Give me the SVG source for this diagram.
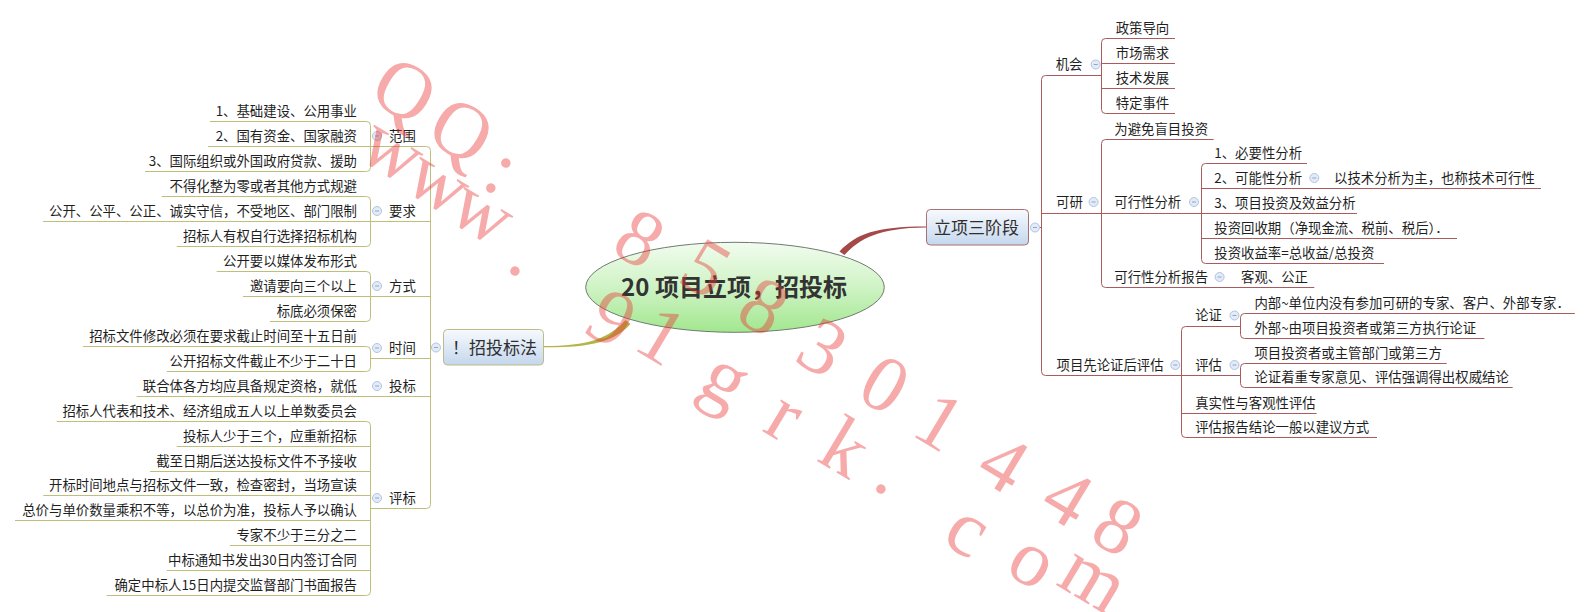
<svg xmlns="http://www.w3.org/2000/svg" xmlns:xlink="http://www.w3.org/1999/xlink" width="1591" height="612" viewBox="0 0 1591 612">
<defs>
<style>
.t{font-family:"Noto Sans CJK SC","Microsoft YaHei",sans-serif;font-size:13.4px;fill:#1f1f1f}
.e{text-anchor:end}
.b{font-size:17px;fill:#2f2f2f}
.m{font-size:24px;font-weight:bold;fill:#333;text-anchor:middle}
.ll{fill:none;stroke:#bfbf7c;stroke-width:1}
.rl{fill:none;stroke:#a85c5c;stroke-width:1}
.wm{font-family:"Liberation Serif","Times New Roman",serif;font-size:80px;fill:#ea3434;fill-opacity:.42;text-anchor:middle;dominant-baseline:central}
</style>
<linearGradient id="gEll" x1="0" y1="0" x2="0" y2="1">
<stop offset="0" stop-color="#f1fcee"/><stop offset="0.5" stop-color="#cff3c5"/><stop offset="1" stop-color="#a2e78f"/>
</linearGradient>
<linearGradient id="gBox" x1="0" y1="0" x2="0" y2="1">
<stop offset="0" stop-color="#f7fafd"/><stop offset="1" stop-color="#c4d7ee"/>
</linearGradient>
<g id="cb"><circle r="4.5" fill="#e3ebf7" stroke="#b1c4e3" stroke-width="1"/><path d="M-2,0H2" stroke="#8ea5cf" stroke-width="1"/></g>
</defs>
<rect width="1591" height="612" fill="#ffffff"/>

<g id="connectors">
<path d="M839.5,251.5 C856,233.5 877,226.3 926,226.4 L926,227.6 C879,228 860,238.5 844.5,255 Z" fill="#a44848"/>
<path d="M625.5,320 C609,338.5 588,346 543.5,346.1 L543.5,347.3 C591,347.6 614,342 630.5,324 Z" fill="#b3b548"/>
<path class="ll" d="M370.5,146.5 H426.5 Q430.5,146.5 430.5,150.5 V504.5 Q430.5,508.5 426.5,508.5 H370.5"/>
<path class="ll" d="M370.5,221.5 H430.5 M370.5,296.5 H430.5 M370.5,358.5 H430.5 M430.5,347.5 H432"/>
<path class="ll" d="M210,121.5 H366.5 Q370.5,121.5 370.5,125.5 V167.5 Q370.5,171.5 366.5,171.5 H145 M208,146.5 H370.5"/>
<path class="ll" d="M161.7,196.5 H366.5 Q370.5,196.5 370.5,200.5 V242.5 Q370.5,246.5 366.5,246.5 H176.7 M43,221.5 H370.5"/>
<path class="ll" d="M216.7,271.5 H366.5 Q370.5,271.5 370.5,275.5 V317.5 Q370.5,321.5 366.5,321.5 H270 M243,296.5 H370.5"/>
<path class="ll" d="M83,346.5 H366.5 Q370.5,346.5 370.5,350.5 V367.5 Q370.5,371.5 366.5,371.5 H166.7"/>
<path class="ll" d="M136.7,396.5 H430.5"/>
<path class="ll" d="M56.7,421.5 H366.5 Q370.5,421.5 370.5,425.5 V591.5 Q370.5,595.5 366.5,595.5 H106.7 M176.7,446.5 H370.5 M150,471.5 H370.5 M43.3,495.5 H370.5 M15,520.5 H370.5 M230,545.5 H370.5 M166.7,570.5 H370.5"/>
<path class="rl" d="M1101.5,75.5 H1045.5 Q1041.5,75.5 1041.5,79.5 V371.5 Q1041.5,375.5 1045.5,375.5 H1240.5 M1039.5,227.5 H1041.5"/>
<path class="rl" d="M1175,38.5 H1105.5 Q1101.5,38.5 1101.5,42.5 V109.5 Q1101.5,113.5 1105.5,113.5 H1175 M1101.5,63.5 H1175 M1101.5,88.5 H1175"/>
<path class="rl" d="M1213.6,139.5 H1105.5 Q1101.5,139.5 1101.5,143.5 V283.5 Q1101.5,287.5 1105.5,287.5 H1314.3 M1041.5,213.5 H1357"/>
<path class="rl" d="M1307,163.5 H1205.5 Q1201.5,163.5 1201.5,167.5 V259.5 Q1201.5,263.5 1205.5,263.5 H1384 M1201.5,188.5 H1541 M1201.5,238.5 H1457"/>
<path class="rl" d="M1240.5,326.5 H1185.5 Q1181.5,326.5 1181.5,330.5 V433.5 Q1181.5,437.5 1185.5,437.5 H1377 M1181.5,413.5 H1316.6"/>
<path class="rl" d="M1574.8,313.5 H1244.5 Q1240.5,313.5 1240.5,317.5 V334.5 Q1240.5,338.5 1244.5,338.5 H1484.4"/>
<path class="rl" d="M1446.7,363.5 H1244.5 Q1240.5,363.5 1240.5,367.5 V383.5 Q1240.5,387.5 1244.5,387.5 H1512.6"/>
</g>

<g id="n-root">
<ellipse cx="735" cy="287.3" rx="149.3" ry="45" fill="url(#gEll)" stroke="#707a70" stroke-width="1"/>
<text class="t m" x="734" y="296">20 项目立项，招投标</text>
</g>

<g id="n-ztbf">
<rect x="443.5" y="329.5" width="100" height="35.5" rx="4" fill="url(#gBox)" stroke="#bdbb86" stroke-width="1"/>
<text class="t b" x="452" y="353.5">！招投标法</text>
<use xlink:href="#cb" x="436" y="347.5"/>
</g>

<g id="n-lxsjd">
<rect x="926.5" y="209.5" width="102" height="35.5" rx="4" fill="url(#gBox)" stroke="#a87070" stroke-width="1"/>
<text class="t b" x="934" y="233.5">立项三阶段</text>
<use xlink:href="#cb" x="1035" y="227.5"/>
</g>

<g id="n-fw"><text class="t" x="389" y="140.5">范围</text><use xlink:href="#cb" x="377" y="136"/></g>
<g id="n-yq"><text class="t" x="389" y="215.5">要求</text><use xlink:href="#cb" x="377" y="211"/></g>
<g id="n-fs"><text class="t" x="389" y="290.5">方式</text><use xlink:href="#cb" x="377" y="286"/></g>
<g id="n-sj"><text class="t" x="389" y="352.5">时间</text><use xlink:href="#cb" x="377" y="348"/></g>
<g id="n-tb"><text class="t" x="389" y="390.5">投标</text><use xlink:href="#cb" x="377" y="386"/></g>
<g id="n-pb"><text class="t" x="389" y="502.5">评标</text><use xlink:href="#cb" x="377" y="498"/></g>

<g id="n-l0"><text class="t e" x="357" y="115.5">1、基础建设、公用事业</text></g>
<g id="n-l1"><text class="t e" x="357" y="140.5">2、国有资金、国家融资</text></g>
<g id="n-l2"><text class="t e" x="357" y="165.5">3、国际组织或外国政府贷款、援助</text></g>
<g id="n-l3"><text class="t e" x="357" y="190.5">不得化整为零或者其他方式规避</text></g>
<g id="n-l4"><text class="t e" x="357" y="215.5">公开、公平、公正、诚实守信，不受地区、部门限制</text></g>
<g id="n-l5"><text class="t e" x="357" y="240.5">招标人有权自行选择招标机构</text></g>
<g id="n-l6"><text class="t e" x="357" y="265.5">公开要以媒体发布形式</text></g>
<g id="n-l7"><text class="t e" x="357" y="290.5">邀请要向三个以上</text></g>
<g id="n-l8"><text class="t e" x="357" y="315.5">标底必须保密</text></g>
<g id="n-l9"><text class="t e" x="357" y="340.5">招标文件修改必须在要求截止时间至十五日前</text></g>
<g id="n-l10"><text class="t e" x="357" y="365.5">公开招标文件截止不少于二十日</text></g>
<g id="n-l11"><text class="t e" x="357" y="390.5">联合体各方均应具备规定资格，就低</text></g>
<g id="n-l12"><text class="t e" x="357" y="415.5">招标人代表和技术、经济组成五人以上单数委员会</text></g>
<g id="n-l13"><text class="t e" x="357" y="440.5">投标人少于三个，应重新招标</text></g>
<g id="n-l14"><text class="t e" x="357" y="465.5">截至日期后送达投标文件不予接收</text></g>
<g id="n-l15"><text class="t e" x="357" y="489.5">开标时间地点与招标文件一致，检查密封，当场宣读</text></g>
<g id="n-l16"><text class="t e" x="357" y="514.5">总价与单价数量乘积不等，以总价为准，投标人予以确认</text></g>
<g id="n-l17"><text class="t e" x="357" y="539.5">专家不少于三分之二</text></g>
<g id="n-l18"><text class="t e" x="357" y="564.5">中标通知书发出30日内签订合同</text></g>
<g id="n-l19"><text class="t e" x="357" y="589.5">确定中标人15日内提交监督部门书面报告</text></g>

<g id="n-jh"><text class="t" x="1055.7" y="69">机会</text><use xlink:href="#cb" x="1095.7" y="64.5"/></g>
<g id="n-ky"><text class="t" x="1056" y="207">可研</text><use xlink:href="#cb" x="1093.6" y="202"/></g>
<g id="n-xmx"><text class="t" x="1056.5" y="369.5">项目先论证后评估</text><use xlink:href="#cb" x="1175.3" y="365"/></g>

<g id="n-r1"><text class="t" x="1115.7" y="32.5">政策导向</text></g>
<g id="n-r2"><text class="t" x="1115.7" y="57.5">市场需求</text></g>
<g id="n-r3"><text class="t" x="1115.7" y="82.5">技术发展</text></g>
<g id="n-r4"><text class="t" x="1115.7" y="107.5">特定事件</text></g>

<g id="n-r5"><text class="t" x="1114.3" y="133.5">为避免盲目投资</text></g>
<g id="n-r6"><text class="t" x="1114.3" y="207">可行性分析</text><use xlink:href="#cb" x="1194" y="202"/></g>
<g id="n-r7"><text class="t" x="1114.3" y="281.5">可行性分析报告</text><use xlink:href="#cb" x="1219.6" y="277"/></g>
<g id="n-r8"><text class="t" x="1241" y="281.5">客观、公正</text></g>

<g id="n-r9"><text class="t" x="1214.3" y="157.5">1、必要性分析</text></g>
<g id="n-r10"><text class="t" x="1214.3" y="182.5">2、可能性分析</text><use xlink:href="#cb" x="1314.3" y="178"/></g>
<g id="n-r11"><text class="t" x="1334" y="182.5">以技术分析为主，也称技术可行性</text></g>
<g id="n-r12"><text class="t" x="1214.3" y="207.5">3、项目投资及效益分析</text></g>
<g id="n-r13"><text class="t" x="1214.3" y="232.5">投资回收期（净现金流、税前、税后）．</text></g>
<g id="n-r14"><text class="t" x="1214.3" y="257.5">投资收益率=总收益/总投资</text></g>

<g id="n-r15"><text class="t" x="1195.2" y="320">论证</text><use xlink:href="#cb" x="1234.5" y="315.5"/></g>
<g id="n-r16"><text class="t" x="1254.4" y="307.5">内部~单位内没有参加可研的专家、客户、外部专家．</text></g>
<g id="n-r17"><text class="t" x="1254.4" y="332.5">外部~由项目投资者或第三方执行论证</text></g>
<g id="n-r18"><text class="t" x="1195.2" y="369.5">评估</text><use xlink:href="#cb" x="1234.5" y="365"/></g>
<g id="n-r19"><text class="t" x="1254.4" y="357.5">项目投资者或主管部门或第三方</text></g>
<g id="n-r20"><text class="t" x="1254.4" y="381.5">论证着重专家意见、评估强调得出权威结论</text></g>
<g id="n-r21"><text class="t" x="1195.2" y="407.5">真实性与客观性评估</text></g>
<g id="n-r22"><text class="t" x="1195.2" y="431.5">评估报告结论一般以建议方式</text></g>

<g id="watermark">
<text class="wm" transform="translate(405,90) rotate(31)">Q</text>
<text class="wm" transform="translate(462,130) rotate(31)">Q</text>
<text class="wm" transform="translate(503,168) rotate(31)">:</text>
<text class="wm" transform="translate(640,238) rotate(31)">8</text>
<text class="wm" transform="translate(706,268) rotate(31)">5</text>
<text class="wm" transform="translate(764,306) rotate(31)">8</text>
<text class="wm" transform="translate(823,347) rotate(31)">3</text>
<text class="wm" transform="translate(885,384) rotate(31)">0</text>
<text class="wm" transform="translate(940,421) rotate(31)">1</text>
<text class="wm" transform="translate(1004,463) rotate(31)">4</text>
<text class="wm" transform="translate(1068,497) rotate(31)">4</text>
<text class="wm" transform="translate(1118,526) rotate(31)">8</text>
<text class="wm" transform="translate(394,148) rotate(31)">w</text>
<text class="wm" transform="translate(440,180) rotate(31)">w</text>
<text class="wm" transform="translate(484,210) rotate(31)">w</text>
<text class="wm" transform="translate(527,251) rotate(31)">.</text>
<text class="wm" transform="translate(612,318) rotate(31)">9</text>
<text class="wm" transform="translate(662,335) rotate(31)">1</text>
<text class="wm" transform="translate(727,377) rotate(31)">g</text>
<text class="wm" transform="translate(786,414) rotate(31)">r</text>
<text class="wm" transform="translate(846,447) rotate(31)">k</text>
<text class="wm" transform="translate(893,469) rotate(31)">.</text>
<text class="wm" transform="translate(969,528) rotate(31)">c</text>
<text class="wm" transform="translate(1034,559) rotate(31)">o</text>
<text class="wm" transform="translate(1095,577) rotate(31)">m</text>
</g>
</svg>
